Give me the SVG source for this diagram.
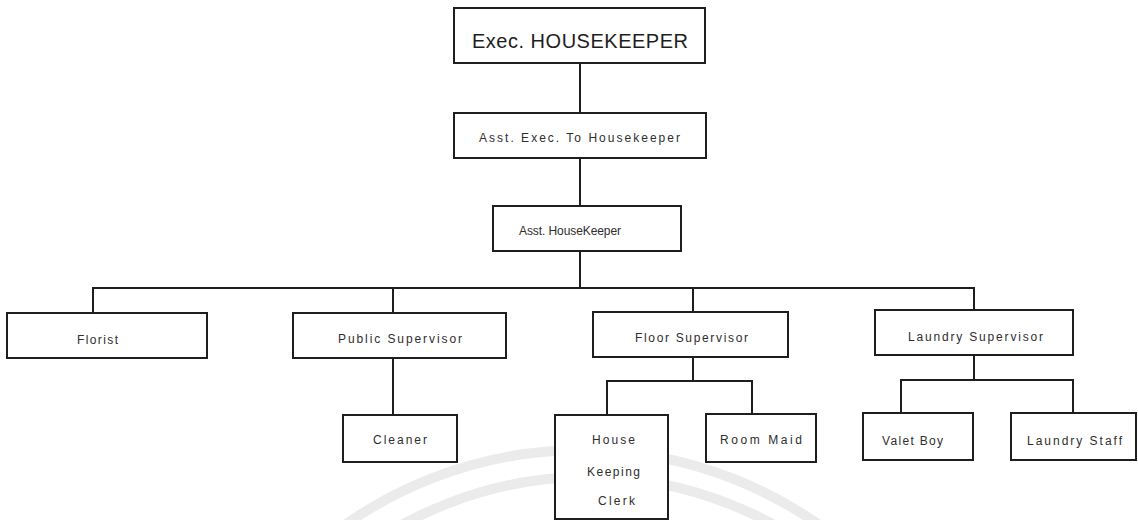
<svg xmlns="http://www.w3.org/2000/svg" width="1138" height="520" viewBox="0 0 1138 520">
  <style>
    .box { fill: #ffffff; stroke: #1e1e1e; stroke-width: 2; }
    .lbl { font-family: "Liberation Sans", Arial, sans-serif; font-size: 12px; fill: #2e2e2e; }
    .big { font-family: "Liberation Sans", Arial, sans-serif; font-size: 20px; fill: #1e1e1e; }
    .wire { fill: none; stroke: #1e1e1e; stroke-width: 2; }
    .ring { fill: none; stroke: #ebebeb; stroke-width: 10; }
  </style>
  <rect width="1138" height="520" fill="#ffffff"/>

  <!-- faint background rings -->
  <g id="rings">
    <circle class="ring" cx="582" cy="862" r="412"/>
    <circle class="ring" cx="588" cy="862" r="385"/>
  </g>

  <!-- connectors -->
  <g id="connectors">
    <path class="wire" d="M580 63 V113 M580 158 V206 M580 251 V288"/>
    <path class="wire" d="M93 313 V288 H974 V310 M393 288 V313 M693 288 V312"/>
    <path class="wire" d="M393 358 V415"/>
    <path class="wire" d="M693 357 V381 M607 415 V381 H752 V414"/>
    <path class="wire" d="M974 355 V380 M901 413 V380 H1073 V413"/>
  </g>

  <g id="exec-housekeeper">
    <rect class="box" x="454" y="8" width="251" height="55"/>
    <text class="big" x="472" y="48" textLength="216" lengthAdjust="spacing">Exec.  HOUSEKEEPER</text>
  </g>
  <g id="asst-exec">
    <rect class="box" x="454" y="113" width="252" height="45"/>
    <text class="lbl" x="479" y="142" textLength="201" lengthAdjust="spacing">Asst. Exec. To Housekeeper</text>
  </g>
  <g id="asst-housekeeper">
    <rect class="box" x="493" y="206" width="188" height="45"/>
    <text class="lbl" x="519" y="235" textLength="102" lengthAdjust="spacing">Asst. HouseKeeper</text>
  </g>
  <g id="florist">
    <rect class="box" x="7" y="313" width="200" height="45"/>
    <text class="lbl" x="77" y="344" textLength="41" lengthAdjust="spacing">Florist</text>
  </g>
  <g id="public-supervisor">
    <rect class="box" x="293" y="313" width="213" height="45"/>
    <text class="lbl" x="338" y="343" textLength="124" lengthAdjust="spacing">Public  Supervisor</text>
  </g>
  <g id="floor-supervisor">
    <rect class="box" x="593" y="312" width="195" height="45"/>
    <text class="lbl" x="635" y="342" textLength="113" lengthAdjust="spacing">Floor  Supervisor</text>
  </g>
  <g id="laundry-supervisor">
    <rect class="box" x="875" y="310" width="198" height="45"/>
    <text class="lbl" x="908" y="341" textLength="135" lengthAdjust="spacing">Laundry  Supervisor</text>
  </g>
  <g id="cleaner">
    <rect class="box" x="343" y="415" width="114" height="47"/>
    <text class="lbl" x="373" y="444" textLength="54" lengthAdjust="spacing">Cleaner</text>
  </g>
  <g id="housekeeping-clerk">
    <rect class="box" x="555" y="415" width="113" height="104"/>
    <text class="lbl" x="592" y="444" textLength="43" lengthAdjust="spacing">House</text>
    <text class="lbl" x="587" y="476" textLength="53" lengthAdjust="spacing">Keeping</text>
    <text class="lbl" x="598" y="505" textLength="37" lengthAdjust="spacing">Clerk</text>
  </g>
  <g id="room-maid">
    <rect class="box" x="706" y="414" width="110" height="48"/>
    <text class="lbl" x="720" y="444" textLength="82" lengthAdjust="spacing">Room  Maid</text>
  </g>
  <g id="valet-boy">
    <rect class="box" x="863" y="413" width="110" height="47"/>
    <text class="lbl" x="882" y="445" textLength="61" lengthAdjust="spacing">Valet  Boy</text>
  </g>
  <g id="laundry-staff">
    <rect class="box" x="1011" y="413" width="125" height="47"/>
    <text class="lbl" x="1027" y="445" textLength="95" lengthAdjust="spacing">Laundry  Staff</text>
  </g>
</svg>
